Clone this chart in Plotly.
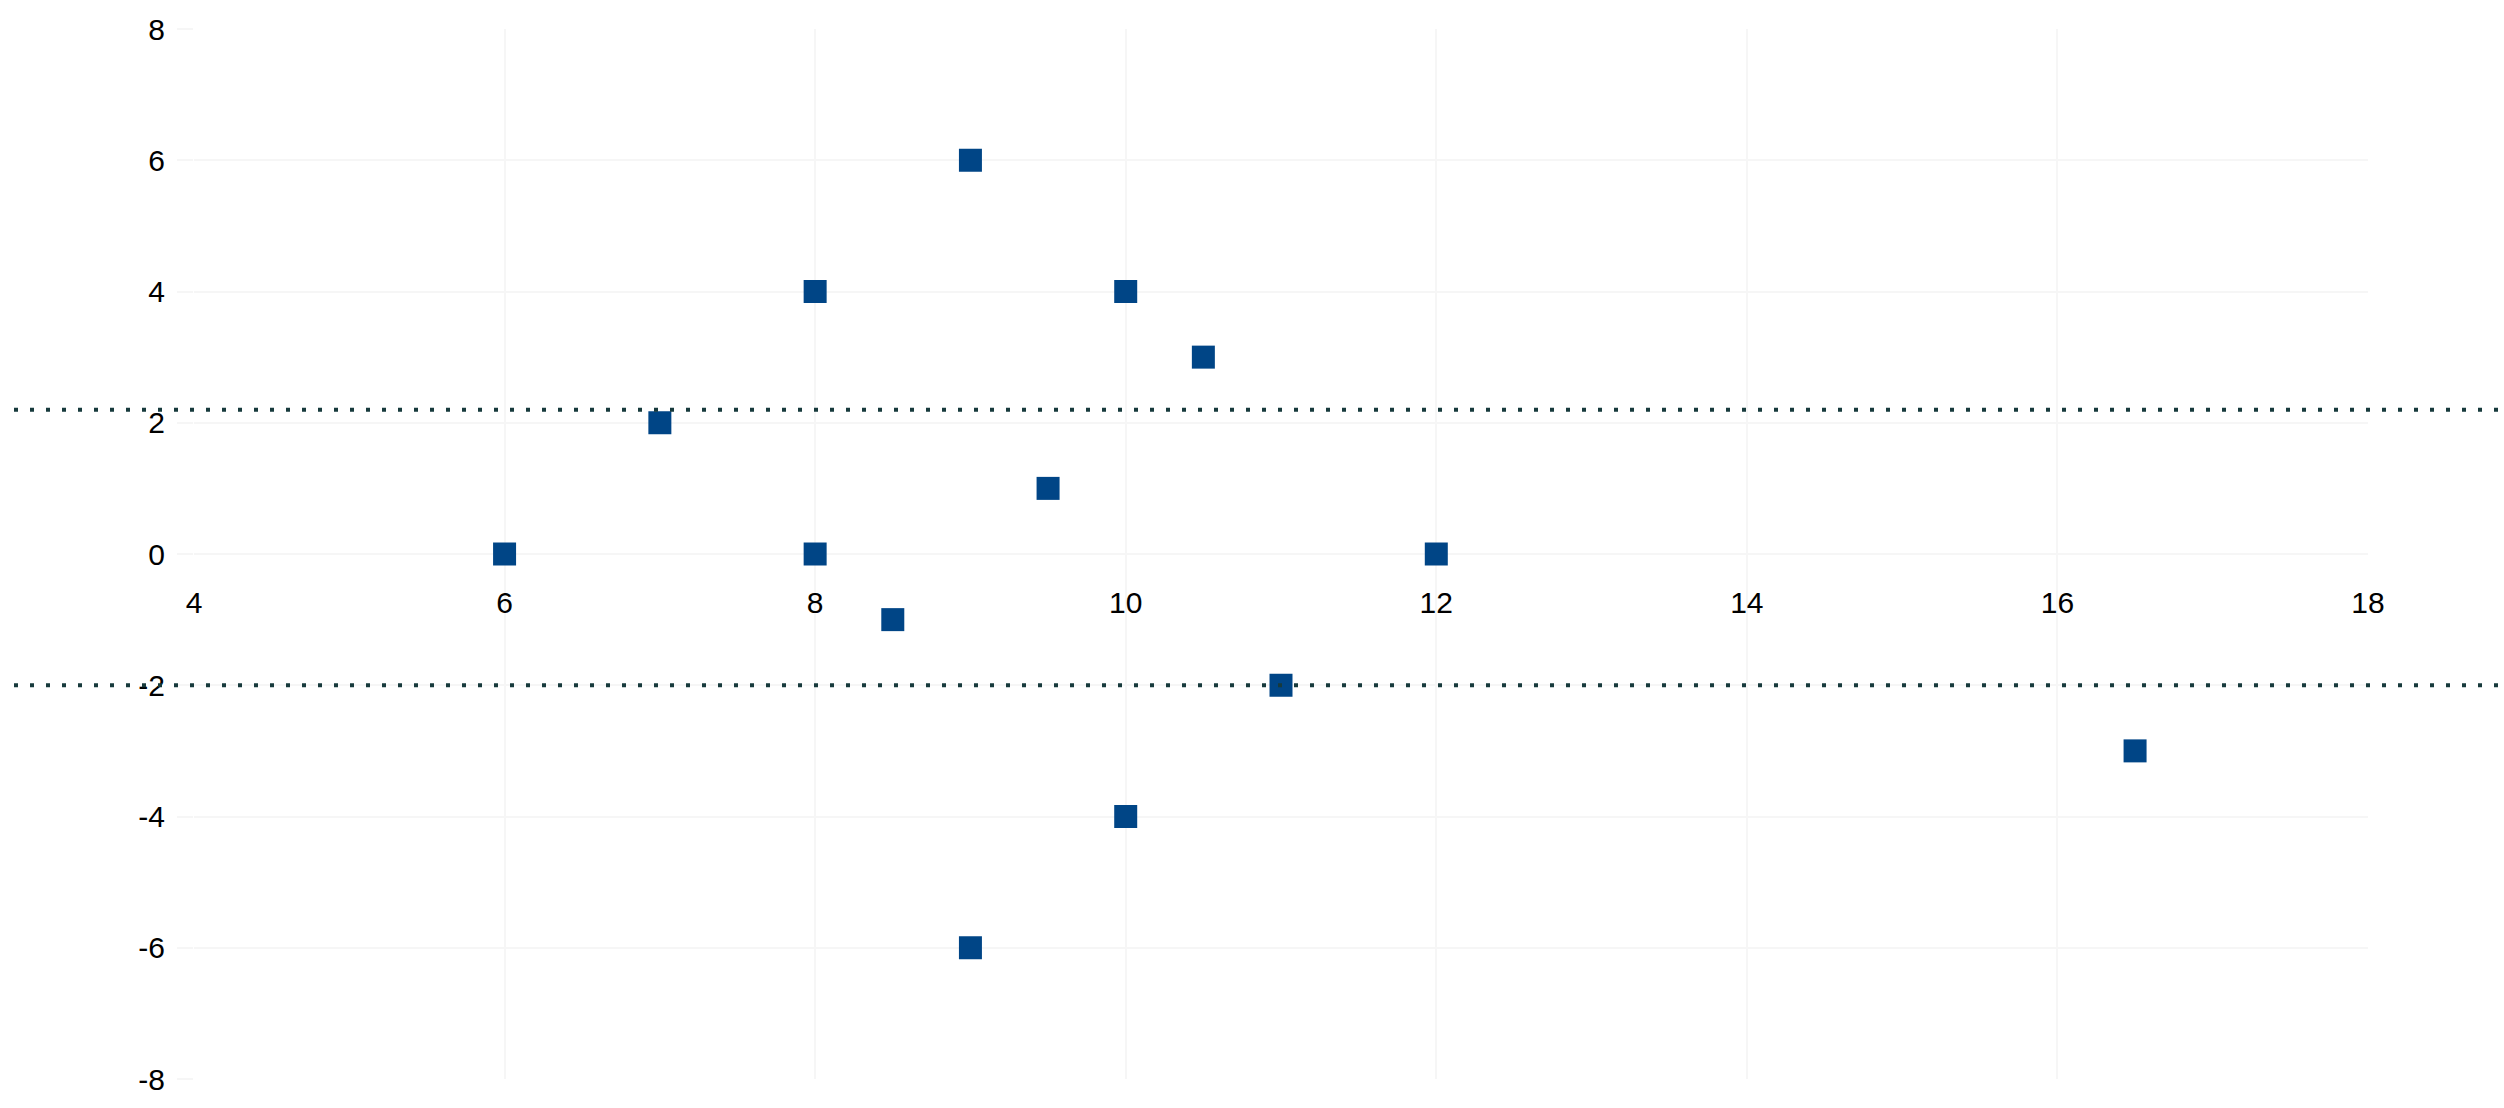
import plotly.graph_objects as go

x_vals = [6, 7, 8, 8, 8.5, 9, 9, 9.5, 10, 10, 10.5, 11, 12, 16.5]
y_vals = [0, 2, 4, 0, -1, 6, -6, 1, 4, -4, 3, -2, 0, -3]
ref_lines = [2.2, -2.0]
x_ticks = [4, 6, 8, 10, 12, 14, 16, 18]
y_ticks = [-8, -6, -4, -2, 0, 2, 4, 6, 8]
x_labels = ["4", "6", "8", "10", "12", "14", "16", "18"]
y_labels = ["-8", "-6", "-4", "-2", "0", "2", "4", "6", "8"]

W, H = 2504, 1108
L, R, T, B = 194, 136, 28, 20
pw = W - L - R

fig = go.Figure()
fig.add_trace(go.Scatter(
    x=x_vals, y=y_vals, mode="markers",
    marker=dict(symbol="square", size=23, color="#004586",
                line=dict(width=0)),
    showlegend=False, hoverinfo="x+y",
))

for v in ref_lines:
    fig.add_shape(type="line", xref="paper", yref="y",
                  x0=(14 - L) / pw, x1=(W - L) / pw, y0=v, y1=v,
                  line=dict(color="#173a3c", width=4, dash="4px,12px"),
                  layer="above")

font = dict(family="Liberation Sans, Arial, sans-serif", size=30, color="#000000")
grid = "#f6f6f6"

fig.update_layout(
    width=W, height=H,
    margin=dict(l=L, r=R, t=T, b=B, pad=0),
    paper_bgcolor="white", plot_bgcolor="white",
    font=font,
    xaxis=dict(range=[4, 18], tickvals=x_ticks, ticktext=x_labels,
               showgrid=True, gridcolor=grid,
               gridwidth=2, zeroline=False, showline=False,
               anchor="free", position=0.5,
               ticks="outside", ticklen=22, tickcolor="rgba(0,0,0,0)",
               tickfont=font),
    yaxis=dict(range=[-8, 8], tickvals=y_ticks, ticktext=y_labels,
               showgrid=True, gridcolor=grid,
               gridwidth=2, zeroline=False, showline=False,
               ticks="outside", ticklen=16, tickcolor=grid, tickwidth=2,
               ticklabelstandoff=6, tickfont=font),
)

fig.write_html("out.html")
